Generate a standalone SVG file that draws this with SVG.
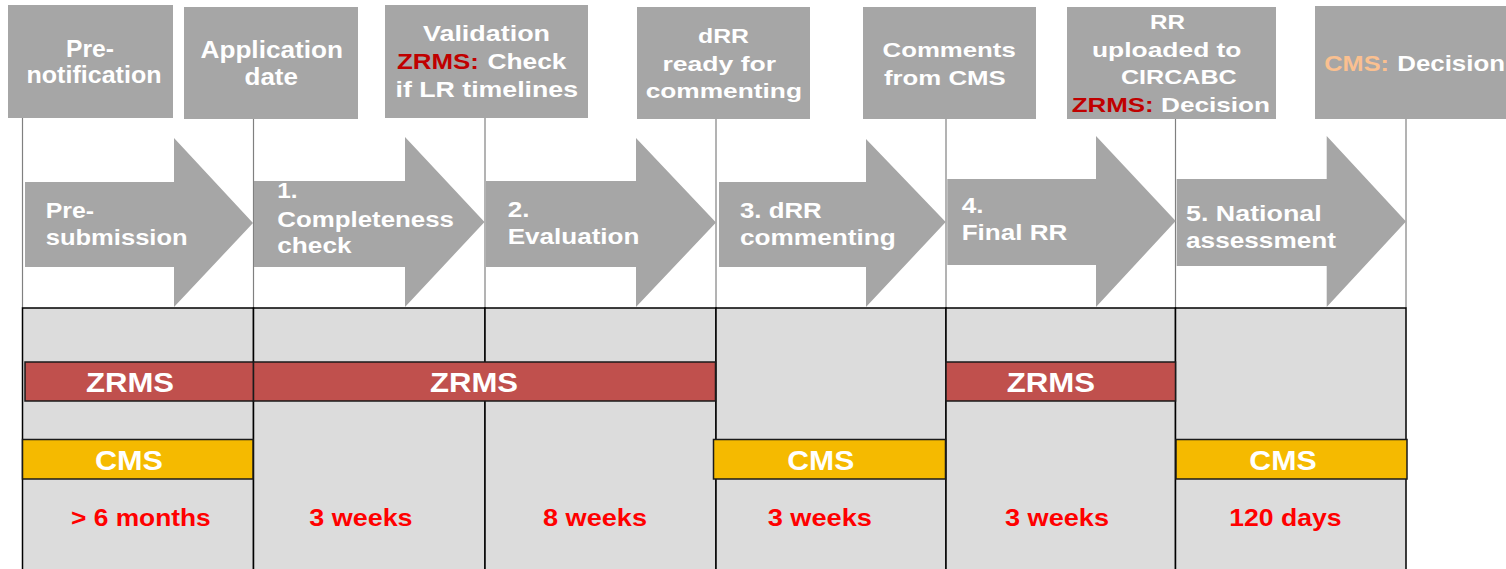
<svg xmlns="http://www.w3.org/2000/svg" width="1506" height="569" viewBox="0 0 1506 569">
  <style>
    .box { fill: #A6A6A6; }
    .arrow { fill: #A6A6A6; }
    .t { font-family: "Liberation Sans", Arial, sans-serif; font-weight: bold; fill: #FFFFFF; }
    .bt { font-size: 22px; }
    .at { font-size: 22px; }
    .zr { fill: #C00000; }
    .cm { fill: #FAC090; }
    .cell { fill: #DCDCDC; stroke: #000000; stroke-width: 1.5; }
    .zbar { fill: #C0504D; stroke: #1A1A1A; stroke-width: 1.5; }
    .cbar { fill: #F5BA00; stroke: #1A1A1A; stroke-width: 1.5; }
    .bar-t { font-size: 28px; }
    .dur { font-family: "Liberation Sans", Arial, sans-serif; font-weight: bold; fill: #FF0000; font-size: 24px; }
    .tick { stroke: #808080; stroke-width: 1.2; fill: none; }
  </style>

  <!-- timeline ticks from milestone boxes down to the table -->
  <g id="connectors">
    <line class="tick" x1="22.5" y1="118" x2="22.5" y2="308"/>
    <line class="tick" x1="253.5" y1="119" x2="253.5" y2="308"/>
    <line class="tick" x1="485" y1="118" x2="485" y2="308"/>
    <line class="tick" x1="716" y1="119" x2="716" y2="308"/>
    <line class="tick" x1="946" y1="119" x2="946" y2="308"/>
    <line class="tick" x1="1175.5" y1="119" x2="1175.5" y2="308"/>
    <line class="tick" x1="1406" y1="118" x2="1406" y2="308"/>
  </g>

  <!-- milestone boxes -->
  <g id="m-prenotification">
    <rect class="box" x="8" y="5" width="165" height="113"/>
    <text class="t" font-size="24" x="66" y="57" textLength="48" lengthAdjust="spacingAndGlyphs">Pre-</text>
    <text class="t" font-size="24" x="26.5" y="83" textLength="135" lengthAdjust="spacingAndGlyphs">notification</text>
  </g>
  <g id="m-application">
    <rect class="box" x="184" y="7" width="174" height="112"/>
    <text class="t" font-size="23" x="200.5" y="58" textLength="142.5" lengthAdjust="spacingAndGlyphs">Application</text>
    <text class="t" font-size="23" x="244.5" y="84.5" textLength="53.5" lengthAdjust="spacingAndGlyphs">date</text>
  </g>
  <g id="m-validation">
    <rect class="box" x="385" y="5" width="203" height="113"/>
    <text class="t bt" x="423" y="41" textLength="127" lengthAdjust="spacingAndGlyphs">Validation</text>
    <text class="t bt zr" x="397" y="69" textLength="82" lengthAdjust="spacingAndGlyphs">ZRMS:</text>
    <text class="t bt" x="487.5" y="69" textLength="79" lengthAdjust="spacingAndGlyphs">Check</text>
    <text class="t bt" x="395.5" y="96.7" textLength="182.5" lengthAdjust="spacingAndGlyphs">if LR timelines</text>
  </g>
  <g id="m-drr-ready">
    <rect class="box" x="637" y="7" width="173" height="112"/>
    <text class="t" font-size="21" x="698" y="43.3" textLength="51" lengthAdjust="spacingAndGlyphs">dRR</text>
    <text class="t" font-size="21" x="662.5" y="71" textLength="113.5" lengthAdjust="spacingAndGlyphs">ready for</text>
    <text class="t" font-size="21" x="645.7" y="98.3" textLength="156.3" lengthAdjust="spacingAndGlyphs">commenting</text>
  </g>
  <g id="m-comments">
    <rect class="box" x="863" y="7" width="173" height="112"/>
    <text class="t" font-size="21" x="882.5" y="57.3" textLength="133.3" lengthAdjust="spacingAndGlyphs">Comments</text>
    <text class="t" font-size="21" x="884" y="85" textLength="121.7" lengthAdjust="spacingAndGlyphs">from CMS</text>
  </g>
  <g id="m-rr-uploaded">
    <rect class="box" x="1067" y="7" width="209" height="112"/>
    <text class="t" font-size="21" x="1150" y="29.3" textLength="35" lengthAdjust="spacingAndGlyphs">RR</text>
    <text class="t" font-size="21" x="1092" y="56.7" textLength="149.5" lengthAdjust="spacingAndGlyphs">uploaded to</text>
    <text class="t" font-size="21" x="1121" y="84" textLength="115.7" lengthAdjust="spacingAndGlyphs">CIRCABC</text>
    <text class="t zr" font-size="21" x="1071.7" y="112.3" textLength="82" lengthAdjust="spacingAndGlyphs">ZRMS:</text>
    <text class="t" font-size="21" x="1161" y="112.3" textLength="109" lengthAdjust="spacingAndGlyphs">Decision</text>
  </g>
  <g id="m-cms-decision">
    <rect class="box" x="1315" y="6" width="191" height="113"/>
    <text class="t cm bt" x="1324.3" y="70.7" textLength="64.7" lengthAdjust="spacingAndGlyphs">CMS:</text>
    <text class="t bt" x="1397.3" y="70.7" textLength="107.7" lengthAdjust="spacingAndGlyphs">Decision</text>
  </g>

  <!-- phase arrows -->
  <g id="p-presubmission">
    <polygon class="arrow" points="25,182 174,182 174,138 253,223 174,307 174,267 25,267"/>
    <text class="t at" x="45.7" y="218.3" textLength="48.3" lengthAdjust="spacingAndGlyphs">Pre-</text>
    <text class="t at" x="45.7" y="245" textLength="142" lengthAdjust="spacingAndGlyphs">submission</text>
  </g>
  <g id="p-completeness">
    <polygon class="arrow" points="254,181 405,181 405,137 484.5,222 405,307 405,267 254,267"/>
    <text class="t at" x="277.3" y="198.3" textLength="20.3" lengthAdjust="spacingAndGlyphs">1.</text>
    <text class="t at" x="277.3" y="226.7" textLength="176.7" lengthAdjust="spacingAndGlyphs">Completeness</text>
    <text class="t at" x="277.3" y="253.3" textLength="74.3" lengthAdjust="spacingAndGlyphs">check</text>
  </g>
  <g id="p-evaluation">
    <polygon class="arrow" points="486,181 636,181 636,138 716,222.5 636,307 636,267 486,267"/>
    <text class="t at" x="507.7" y="216.7" textLength="21.7" lengthAdjust="spacingAndGlyphs">2.</text>
    <text class="t at" x="507.7" y="244" textLength="131.7" lengthAdjust="spacingAndGlyphs">Evaluation</text>
  </g>
  <g id="p-drr-commenting">
    <polygon class="arrow" points="719,182 866,182 866,139 945.7,222 866,307 866,267 719,267"/>
    <text class="t at" x="740" y="218.3" textLength="81.7" lengthAdjust="spacingAndGlyphs">3. dRR</text>
    <text class="t at" x="740" y="245" textLength="155.7" lengthAdjust="spacingAndGlyphs">commenting</text>
  </g>
  <g id="p-final-rr">
    <polygon class="arrow" points="947.3,179 1096,179 1096,136 1175.7,221 1096,307 1096,265 947.3,265"/>
    <text class="t at" x="961.7" y="213" textLength="21.7" lengthAdjust="spacingAndGlyphs">4.</text>
    <text class="t at" x="961.7" y="240" textLength="105.7" lengthAdjust="spacingAndGlyphs">Final RR</text>
  </g>
  <g id="p-national">
    <polygon class="arrow" points="1176.7,179 1326.7,179 1326.7,136 1406,221.5 1326.7,307 1326.7,266 1176.7,266"/>
    <text class="t at" x="1186" y="221" textLength="135.7" lengthAdjust="spacingAndGlyphs">5. National</text>
    <text class="t at" x="1186" y="248.3" textLength="150" lengthAdjust="spacingAndGlyphs">assessment</text>
  </g>

  <!-- duration table -->
  <g id="table">
    <rect class="cell" x="22.5" y="308" width="231" height="270"/>
    <rect class="cell" x="253.5" y="308" width="231.5" height="270"/>
    <rect class="cell" x="485" y="308" width="231" height="270"/>
    <rect class="cell" x="716" y="308" width="230" height="270"/>
    <rect class="cell" x="946" y="308" width="229.5" height="270"/>
    <rect class="cell" x="1175.5" y="308" width="230.5" height="270"/>
  </g>

  <!-- responsibility bars -->
  <g id="zrms-1">
    <rect class="zbar" x="25" y="362" width="228.5" height="39"/>
    <text class="t bar-t" x="86" y="392.3" textLength="88" lengthAdjust="spacingAndGlyphs">ZRMS</text>
  </g>
  <g id="zrms-2">
    <rect class="zbar" x="253.5" y="362" width="462" height="39"/>
    <text class="t bar-t" x="430" y="392.3" textLength="88" lengthAdjust="spacingAndGlyphs">ZRMS</text>
  </g>
  <g id="zrms-3">
    <rect class="zbar" x="946" y="362" width="229.5" height="39"/>
    <text class="t bar-t" x="1006.7" y="392.3" textLength="88.3" lengthAdjust="spacingAndGlyphs">ZRMS</text>
  </g>
  <g id="cms-1">
    <rect class="cbar" x="22.5" y="439.5" width="230.5" height="39.5"/>
    <text class="t bar-t" x="95" y="470" textLength="68" lengthAdjust="spacingAndGlyphs">CMS</text>
  </g>
  <g id="cms-2">
    <rect class="cbar" x="713.5" y="439.5" width="232" height="39.5"/>
    <text class="t bar-t" x="787.3" y="470" textLength="67" lengthAdjust="spacingAndGlyphs">CMS</text>
  </g>
  <g id="cms-3">
    <rect class="cbar" x="1176" y="439.5" width="231" height="39.5"/>
    <text class="t bar-t" x="1249.3" y="470" textLength="67.3" lengthAdjust="spacingAndGlyphs">CMS</text>
  </g>

  <!-- phase durations -->
  <g id="durations">
    <text class="dur" x="71" y="525.7" textLength="139.7" lengthAdjust="spacingAndGlyphs">&gt; 6 months</text>
    <text class="dur" x="309.3" y="525.7" textLength="103.3" lengthAdjust="spacingAndGlyphs">3 weeks</text>
    <text class="dur" x="543" y="525.7" textLength="104" lengthAdjust="spacingAndGlyphs">8 weeks</text>
    <text class="dur" x="767.7" y="525.7" textLength="104.3" lengthAdjust="spacingAndGlyphs">3 weeks</text>
    <text class="dur" x="1005" y="525.7" textLength="104" lengthAdjust="spacingAndGlyphs">3 weeks</text>
    <text class="dur" x="1229.3" y="525.7" textLength="112.3" lengthAdjust="spacingAndGlyphs">120 days</text>
  </g>
</svg>
